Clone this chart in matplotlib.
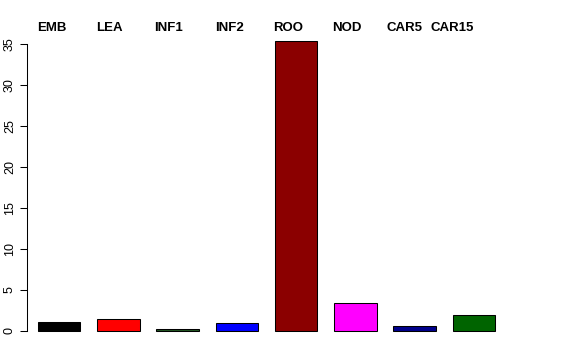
import numpy as np
import matplotlib.pyplot as plt

tissues = ["EMB", "LEA", "INF1", "INF2", "ROO", "NOD", "CAR5", "CAR15"]
values = [1.13, 1.43, 0.2, 0.94, 35.3, 3.45, 0.6, 2.0]
colors = ["black", "red", "#235523", "blue", "#8B0000", "magenta", "#00008B", "#006400"]
yticks = [0, 5, 10, 15, 20, 25, 30, 35]
# label offsets from the bar centres (labels are not centred on bars)
label_shift = [-0.18, -0.21, -0.22, -0.17, -0.19, -0.2, -0.25, -0.52]

plt.rcParams["font.family"] = ["Liberation Sans", "DejaVu Sans"]

fig = plt.figure(figsize=(5.76, 3.6), dpi=100)
ax = fig.add_axes([27/576, 1 - 342.6/360, 479/576, (342.6 - 28.2)/360])

x = np.arange(len(values)) * 1.4
ax.bar(x, values, width=1.0, color=colors, edgecolor="black", linewidth=0.75)

ax.set_xlim(-0.76, 10.56)
ax.set_ylim(-1.42, 36.92)

for s in ["top", "right", "bottom"]:
    ax.spines[s].set_visible(False)
ax.spines["left"].set_bounds(0, 35)
ax.spines["left"].set_linewidth(0.75)
ax.set_xticks([])
ax.set_yticks(yticks)
ax.set_yticklabels([str(t) for t in yticks], rotation=90, va="center", fontsize=9)
ax.tick_params(axis="y", length=5, width=0.75, pad=3)

for xi, name, sh in zip(x, tissues, label_shift):
    ax.text(xi + sh, 0.99, name, transform=ax.get_xaxis_transform(),
            ha="center", va="baseline", fontsize=9.5, fontweight="bold")

fig.savefig("out.png", dpi=100)
